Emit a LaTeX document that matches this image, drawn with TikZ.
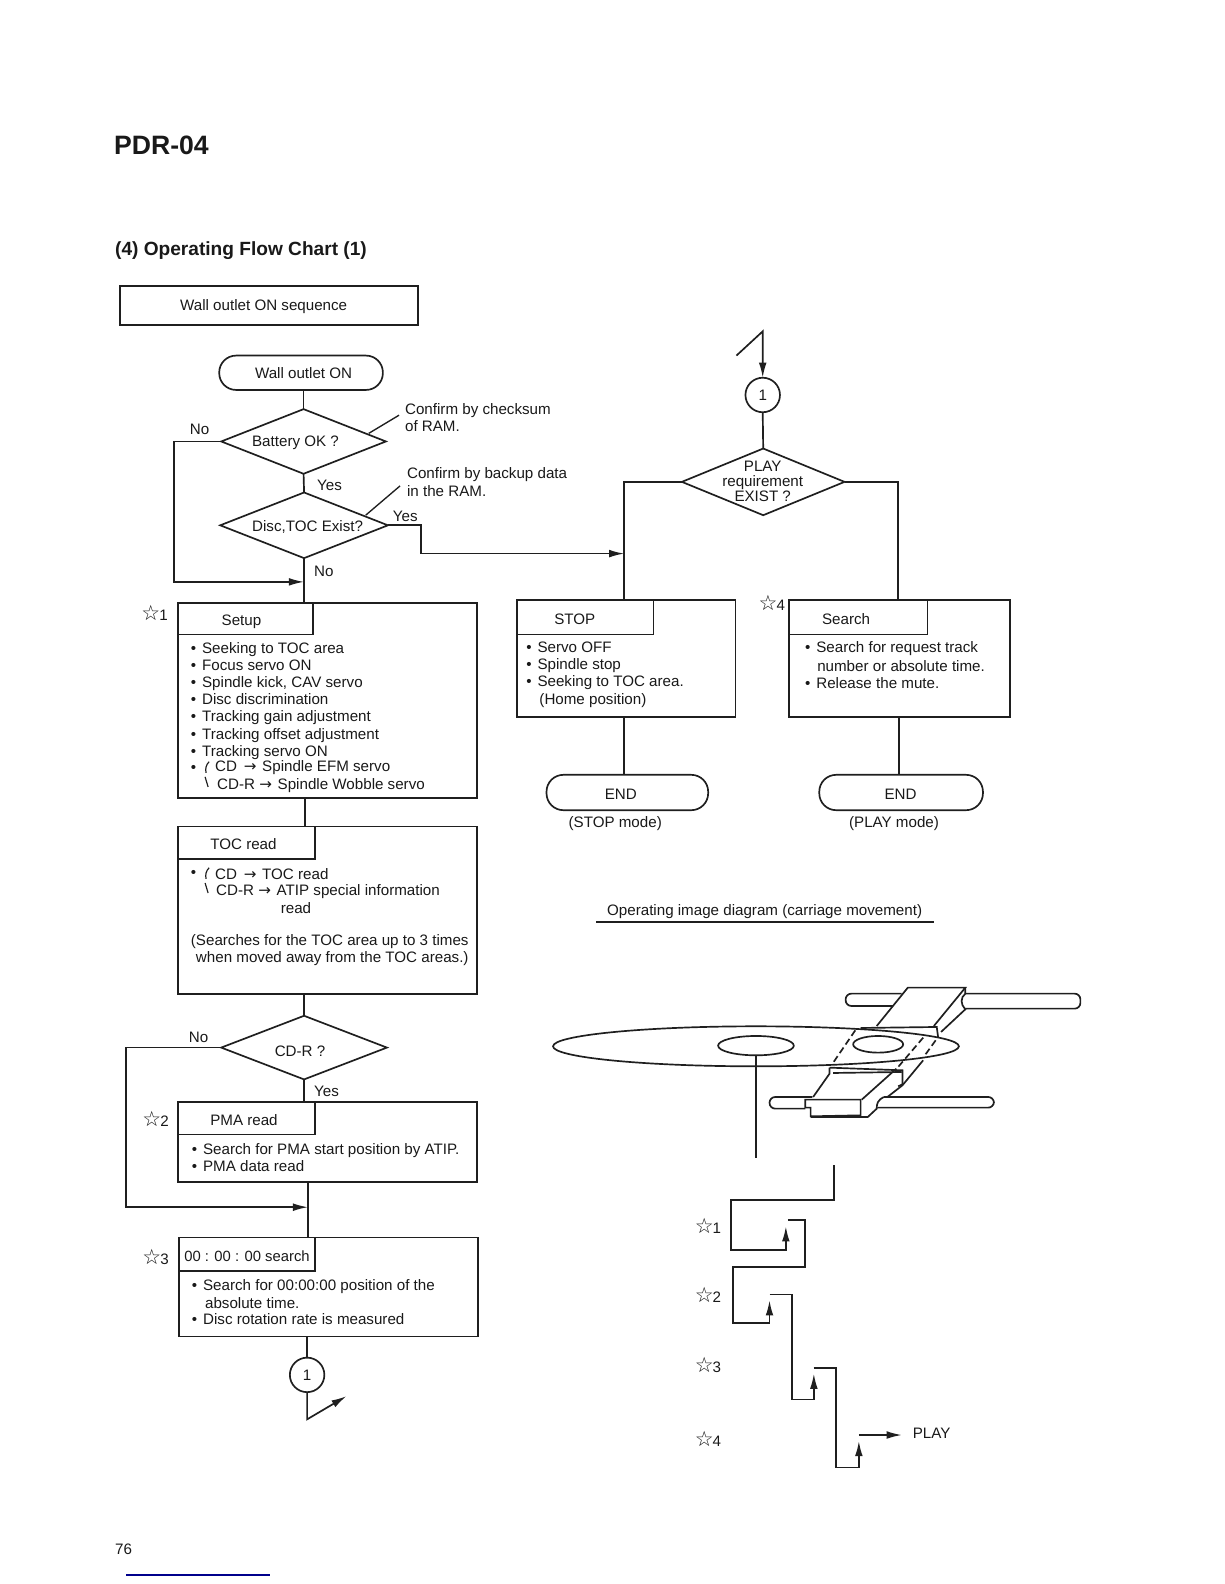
\documentclass[tikz,border=0pt]{standalone}
\usepackage{fontspec}
\setmainfont{Liberation Sans}
\newfontfamily\symf{DejaVu Sans}
\usetikzlibrary{arrows.meta,shapes.geometric,calc}
\tikzset{
 ln/.style={line width=1pt,black!88},
 arr/.style={ln,-{Latex[length=9pt,width=4.6pt]}},
 txt/.style={anchor=west,align=left,inner sep=0pt,outer sep=0pt,yshift=-0.7pt,text=black!90,font=\fontsize{9}{10.2}\selectfont},
 ctxt/.style={txt,anchor=center,align=center},
 boxs/.style={ln,draw,rectangle,inner sep=0pt,outer sep=0pt},
 term/.style={boxs,rounded corners=10pt},
 dia/.style={ln,draw,diamond,inner sep=0pt,outer sep=0pt,fill=white},
 conn/.style={ln,draw,circle,inner sep=0pt,outer sep=0pt,minimum size=20.5pt,text=black!90,font=\fontsize{9}{10.2}\selectfont},
 dsh/.style={ln,dash pattern=on 4pt off 2.2pt},
 rodc/.style={ln,rounded corners=3.4pt},
}
\newcommand\bx[6]{%
 \pgfmathsetmacro\bxw{(#5-#3)*0.6}\pgfmathsetmacro\bxh{(#6-#4)*0.6}%
 \node[#1,minimum width=\bxw pt,minimum height=\bxh pt] (#2) at ({(#3+#5)/2},{(#4+#6)/2}) {};}
\newcommand\dm[8]{%
 \pgfmathsetmacro\bxw{(#4-#2)*0.6}\pgfmathsetmacro\bxh{(#5)*0.6}%
 \node[dia,minimum width=\bxw pt,minimum height=\bxh pt] (#1) at ({(#2+#4)/2},#3) {};
 \node[ctxt] (#1-t) at (#6,#7) {#8};}
\newcommand\st[1]{{\symf\fontsize{12.5}{12}\selectfont ☆}\kern-.6pt #1}
\newcommand\bl{•\kern1pt\ }
\newcommand\ra{{\symf→}\kern.9pt}
\begin{document}
\begin{tikzpicture}[x=0.6pt,y=-0.6pt]
\useasboundingbox (0,0) rectangle (1212,1568);
% titles
\node[txt,font=\bfseries\fontsize{15.8}{18}\selectfont] (t1) at (113,143) {PDR-04};
\node[txt,font=\bfseries\fontsize{11.35}{14}\selectfont] (t2) at (114,247) {(4) Operating Flow Chart (1)};
\bx{boxs}{seq}{119}{283}{414}{322}
\node[ctxt] (seqt) at (261,302) {Wall outlet ON sequence};
% left flow
\bx{term}{won}{217}{352}{379}{386}
\node[ctxt] (wont) at (300.5,368) {Wall outlet ON};
\dm{batt}{219}{437}{382}{64}{292.5}{437}{Battery OK ?}
\dm{disc}{218}{520}{384}{65}{304.5}{520}{Disc,TOC Exist?}
\bx{boxs}{setup}{176}{597}{472}{790}
\bx{boxs}{setuph}{176}{597}{310}{628}
\node[ctxt] (setupl) at (239,614) {Setup};
\bx{boxs}{toc}{176}{818}{472}{984}
\bx{boxs}{toch}{176}{818}{312}{850}
\node[ctxt] (tocl) at (241,834) {TOC read};
\dm{cdr}{219}{1037}{383}{63}{297}{1039}{CD-R ?}
\bx{boxs}{pma}{176}{1091}{472}{1170}
\bx{boxs}{pmah}{176}{1091}{312}{1123}
\node[ctxt] (pmal) at (241.5,1108) {PMA read};
\bx{boxs}{zero}{177}{1225}{473}{1323}
\bx{boxs}{zeroh}{177}{1225}{312}{1258}
\node[ctxt,font=\fontsize{8.8}{10}\selectfont] (zerol) at (244.5,1242) {00 : 00 : 00 search};
\node[conn] (c1) at (304,1361) {1};
% right flow
\node[conn] (c2) at (755,391) {1};
\dm{play}{675}{477}{836}{66}{755}{475.5}{PLAY\\[-1.2pt]requirement\\[-1.2pt]EXIST ?}
\bx{boxs}{stop}{512}{594}{728}{710}
\bx{boxs}{stoph}{512}{594}{647}{628}
\node[ctxt] (stopl) at (569,612) {STOP};
\bx{boxs}{srch}{781}{594}{1000}{710}
\bx{boxs}{srchh}{781}{594}{918}{628}
\node[ctxt] (srchl) at (837.5,612) {Search};
\bx{term}{end1}{541}{767}{701}{802}
\node[ctxt] (endl1) at (614.5,785) {END};
\bx{term}{end2}{811}{767}{973}{802}
\node[ctxt] (endl2) at (891.5,785) {END};
% texts
\node[txt] (setupt) at (189,692.5) {\bl Seeking to TOC area\\\bl Focus servo ON\\\bl Spindle kick, CAV servo\\\bl Disc discrimination\\\bl Tracking gain adjustment\\\bl Tracking offset adjustment\\\bl Tracking servo ON};
\node[txt] (b1) at (189,760) {•};
\node[txt] (s1) at (213,759) {CD \,\ra\ Spindle EFM servo};
\node[txt] (s2) at (215,776) {CD-R \ra\ Spindle Wobble servo};
\draw[ln,line width=.7pt] (207,754) .. controls (204,757) and (203,761) .. (204,765);
\draw[ln,line width=.7pt] (203,769) -- (206,779);
\node[txt] (b2) at (189,864) {•};
\node[txt] (s3) at (213,864) {CD \,\ra\ TOC read};
\node[txt] (s4) at (214,881) {CD-R \ra\ ATIP special information};
\node[txt] (s5) at (278,898) {read};
\draw[ln,line width=.7pt] (207,859) .. controls (204,862) and (203,866) .. (204,870);
\draw[ln,line width=.7pt] (203,874) -- (206,884);
\node[txt] (s6) at (189,931) {(Searches for the TOC area up to 3 times};
\node[txt] (s7) at (194,948) {when moved away from the TOC areas.)};
\node[txt] (s8) at (190,1145) {\bl Search for PMA start position by ATIP.\\\bl PMA data read};
\node[txt] (s9) at (190,1272) {\bl Search for 00:00:00 position of the};
\node[txt] (s10) at (203,1289) {absolute time.};
\node[txt] (s11) at (190,1305) {\bl Disc rotation rate is measured};
\node[txt] (s12) at (521,658) {\bl Servo OFF\\\bl Spindle stop\\\bl Seeking to TOC area.};
\node[txt] (s13) at (534,692) {(Home position)};
\node[txt] (s14) at (797,641) {\bl Search for request track};
\node[txt] (s15) at (809,658) {number or absolute time.};
\node[txt] (s16) at (797,675) {\bl Release the mute.};
\node[ctxt] (m1) at (609,814) {(STOP mode)};
\node[ctxt] (m2) at (885,814) {(PLAY mode)};
\node[txt] (l1) at (188,424) {No};
\node[txt] (l2) at (314,479) {Yes};
\node[txt] (l3) at (389,510) {Yes};
\node[txt] (l4) at (311,564) {No};
\node[txt] (l5) at (187,1026) {No};
\node[txt] (l6) at (311,1079) {Yes};
\node[txt] (n1) at (401,412.5) {Confirm by checksum\\of RAM.};
\node[txt] (n2) at (403,476) {Confirm by backup data\\in the RAM.};
\node[txt] (st1) at (140,606) {\st{1}};
\node[txt] (st2) at (141,1106) {\st{2}};
\node[txt] (st3) at (141,1243) {\st{3}};
\node[txt] (st4) at (751,596) {\st{4}};
\node[txt] (op) at (601,901) {Operating image diagram (carriage movement)};
\node[txt] (pg) at (114,1532) {76};
\coordinate (opa) at (590,913); \coordinate (opb) at (925,913);
\draw[ln] (opa) -- (opb);
% connectors
\draw[ln] (won.south -| batt.north) -- (batt.north);
\draw[ln] (batt.south) -- (disc.north);
\coordinate (lda) at (395,411); \coordinate (ldb) at (365,429);
\coordinate (ldc) at (396,481); \coordinate (ldd) at (362,510);
\draw[ln,line width=.8pt] (lda) -- (ldb);
\draw[ln,line width=.8pt] (ldc) -- (ldd);
\draw[ln] (disc.south) -- (disc.south |- setup.north);
\coordinate (j1) at (172,576);
\draw[arr] (batt.west) -| (j1) -- (disc.south |- j1);
\coordinate (j2) at (417,520); \coordinate (j3) at (417,548); \coordinate (j4) at (618,548);
\draw[arr] (disc.east) -- (j2) -- (j3) -- (j4);
\coordinate (sx) at (302,790);
\draw[ln] (sx) -- (sx |- toc.north);
\draw[ln] (cdr.north |- toc.south) -- (cdr.north);
\draw[ln] (cdr.south) -- (cdr.south |- pma.north);
\coordinate (j5) at (125,1195); \coordinate (j6) at (305,1195);
\draw[arr] (cdr.west) -| (j5) -- (j6);
\draw[ln] (j6 |- pma.south) -- (j6 |- zero.north);
\draw[ln] (c1.north |- zero.south) -- (c1.north);
\coordinate (e1) at (304,1405); \coordinate (e2) at (343,1382);
\draw[arr] (c1.south) -- (e1) -- (e2);
\coordinate (e3) at (729,352); \coordinate (e4) at (755,328);
\draw[arr] (e3) -- (e4) -- (c2.north);
\draw[ln] (c2.south) -- (play.north);
\coordinate (p1) at (618,477); \coordinate (p2) at (889,477);
\draw[ln] (play.west) -- (p1) -- (p1 |- stop.north);
\draw[ln] (play.east) -- (p2) -- (p2 |- srch.north);
\draw[ln] (p1 |- stop.south) -- (p1 |- end1.north);
\coordinate (p3) at (890,710);
\draw[ln] (p3) -- (p3 |- end2.north);
% mechanism drawing (coordinates read from a crop)
\begin{scope}[shift={(524.8,950.6)},x=0.2122pt,y=-0.198pt]
 % top rod
 \draw[rodc] (1040,100) -- (883,100) -- (883,137) -- (1015,137);
 \draw[rodc] (1218,100) -- (1540,100) -- (1540,145) -- (1218,145);
 \draw[ln,fill=white] (970,197) -- (1057,82) -- (1218,82) -- (1130,197);
 \draw[ln] (1218,82) -- (1218,100) .. controls (1204,112) and (1204,132) .. (1218,147) -- (1150,215);
 \draw[ln,fill=white] (925,203) -- (1138,200) -- (1142,232);
 % bottom rod
 \draw[rodc] (790,410) -- (670,410) -- (670,445) -- (770,445);
 \draw[rodc] (990,410) -- (1298,410) -- (1298,442) -- (972,442);
 % disc
 \draw[ln,fill=white] (632,258) ellipse [x radius=568,y radius=60];
 \draw[ln,fill=white] (632,256) ellipse [x radius=106,y radius=29];
 \draw[ln,fill=white] (974,252) ellipse [x radius=70,y radius=25];
 \draw[dsh] (910,210) -- (845,312);
 \draw[dsh] (1100,232) -- (1022,330);
 \draw[dsh] (1135,240) -- (1100,292);
 % bottom slab
 \draw[ln] (838,322) -- (1042,330) -- (1042,372) -- (1030,378);
 \draw[ln] (838,322) -- (838,340) -- (792,410);
 \draw[ln] (848,338) -- (1040,335);
 \draw[ln] (1025,325) -- (928,418);
 \draw[ln] (1100,300) -- (1042,375) -- (1000,410);
 \draw[ln,fill=white] (770,418) -- (925,418) -- (925,465) -- (785,468) -- (785,442) -- (770,442) -- cycle;
 \draw[ln] (785,470) -- (945,470) -- (970,445) .. controls (970,430) and (972,420) .. (990,410);
 \draw[ln] (632,288) -- (632,592);
\end{scope}
% movement steps (coordinates read from a crop)
\begin{scope}[shift={(663.4,1128.8)},x=0.198pt,y=-0.198pt]
 \coordinate (a1) at (492,75); \coordinate (a2) at (492,178); \coordinate (a3) at (182,178); \coordinate (a4) at (182,328); \coordinate (a5) at (347,328); \coordinate (a6) at (347,258);
 \draw[arr] (a1) -- (a2) -- (a3) -- (a4) -- (a5) -- (a6);
 \coordinate (b1a) at (353,238); \coordinate (b2a) at (405,238); \coordinate (b3a) at (405,380); \coordinate (b4a) at (188,380); \coordinate (b5a) at (188,547); \coordinate (b6a) at (298,547); \coordinate (b7a) at (298,480);
 \draw[arr] (b1a) -- (b2a) -- (b3a) -- (b4a) -- (b5a) -- (b6a) -- (b7a);
 \coordinate (c1a) at (298,462); \coordinate (c2a) at (366,462); \coordinate (c3a) at (366,777); \coordinate (c4a) at (431,777); \coordinate (c5a) at (431,700);
 \draw[arr] (c1a) -- (c2a) -- (c3a) -- (c4a) -- (c5a);
 \coordinate (d1a) at (430,683); \coordinate (d2a) at (498,683); \coordinate (d3a) at (498,981); \coordinate (d4a) at (566,981); \coordinate (d5a) at (566,902);
 \draw[arr] (d1a) -- (d2a) -- (d3a) -- (d4a) -- (d5a);
 \coordinate (f1) at (566,884); \coordinate (f2) at (695,884);
 \draw[arr] (f1) -- (f2);
 \node[txt] (pl) at (728,874) {PLAY};
 \node[txt] (q1) at (74,254) {\st{1}};
 \node[txt] (q2) at (74,459) {\st{2}};
 \node[txt] (q3) at (74,670) {\st{3}};
 \node[txt] (q4) at (74,893) {\st{4}};
\end{scope}
% strip at the foot of the page
\coordinate (u1) at (125,1559); \coordinate (u2) at (267,1559);
\draw[line width=.7pt,blue!55!black] (u1) -- (u2);
\end{tikzpicture}
\end{document}
